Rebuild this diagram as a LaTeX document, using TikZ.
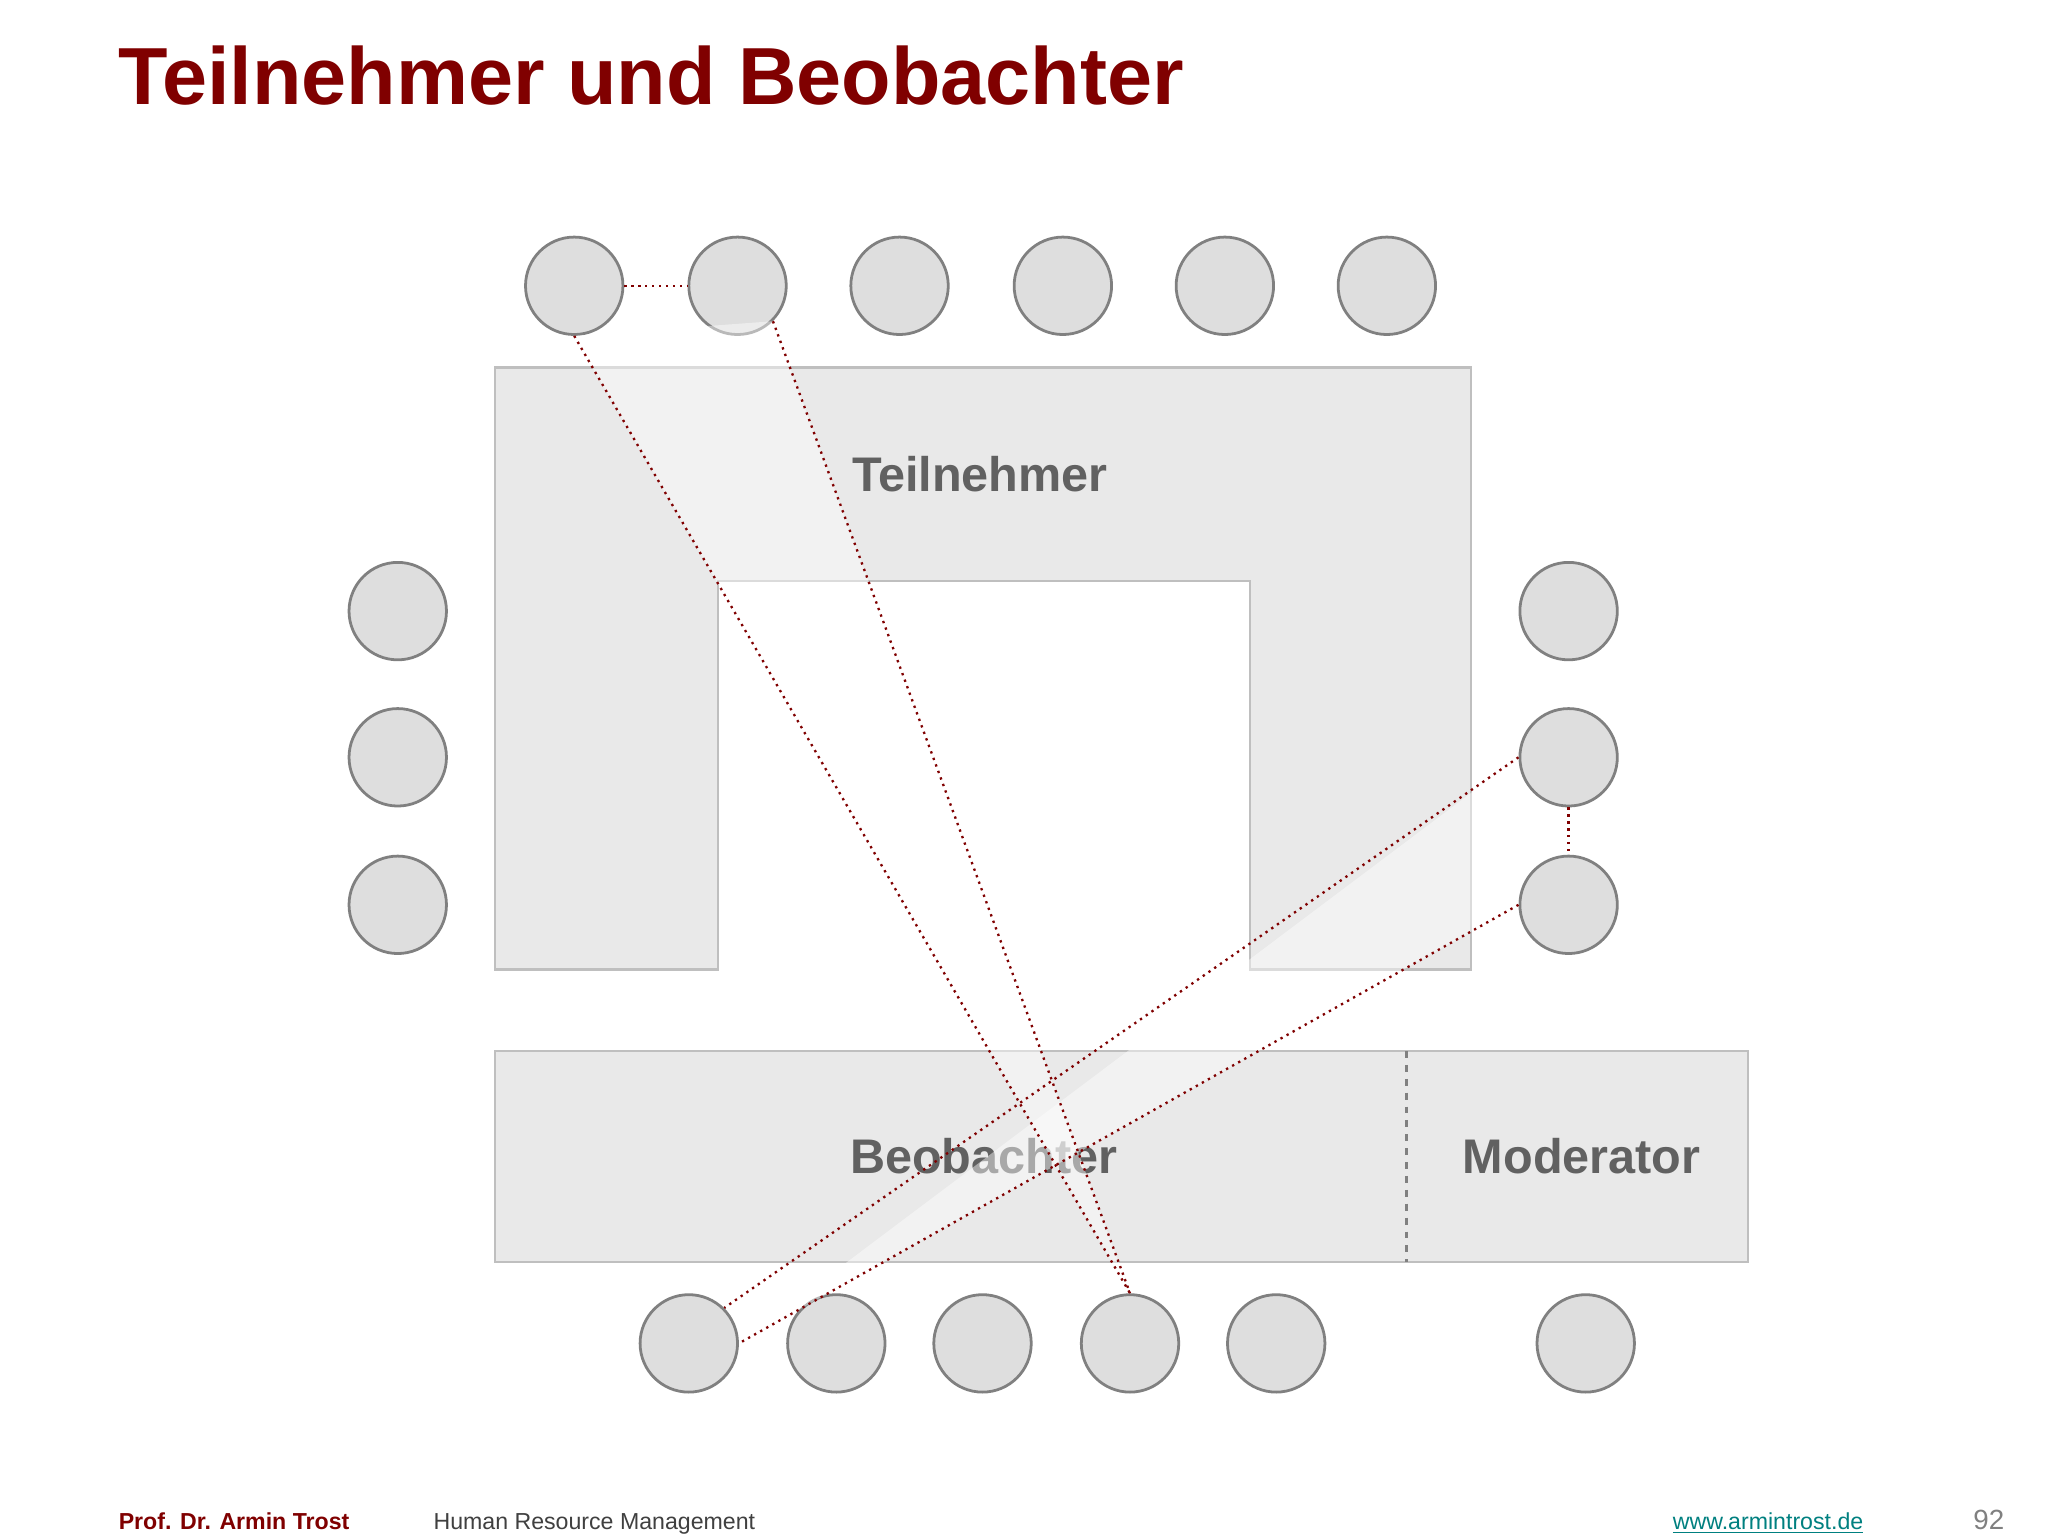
\documentclass[tikz,border=0pt]{standalone}
\usepackage{fontspec}
\setmainfont{Liberation Sans}
\begin{document}
\begin{tikzpicture}[x=0.02cm,y=-0.02cm,
 seat/.style={circle,draw=black!50,fill=black!3!gray!25,line width=1.2pt,minimum size=1.48cm,inner sep=0},
 tbl/.style={draw=black!25,fill=gray!17,line width=1pt},
 link/.style={draw=red!50!black,dotted,line width=1pt},
 lbl/.style={font=\bfseries\fontsize{21pt}{24pt}\selectfont,text=black!62}]
\useasboundingbox (0,0) rectangle (1555,1166);
\fill[white] (0,0) rectangle (1555,1166);
\node[anchor=base west,font=\bfseries\fontsize{35pt}{40pt}\selectfont,text=red!50!black] (title) at (84,79) {Teilnehmer und Beobachter};
\draw[tbl] (376,279) -- (1117,279) -- (1117,736) -- (949,736) -- (949,441) -- (545,441) -- (545,736) -- (376,736) -- cycle;
\draw[tbl] (376,798) rectangle (1327,958);
\draw[black!50,dashed,line width=1pt] (1068,798) -- (1068,958);
\node[lbl] (tn) at (744,360) {Teilnehmer};
\node[lbl] (bb) at (747,878) {Beobachter};
\node[lbl] (md) at (1201,878) {Moderator};
\foreach \x [count=\i] in {436,560,683,807,930,1053} \node[seat] (t\i) at (\x,217) {};
\foreach \y [count=\i] in {464,575,687} { \node[seat] (l\i) at (302,\y) {}; \node[seat] (r\i) at (1191,\y) {}; }
\foreach \x [count=\i] in {523,635,746,858,969,1204} \node[seat] (b\i) at (\x,1020) {};
\fill[white,opacity=0.45] (t1.south) -- (t2.south east) -- (b4.north) -- cycle;
\fill[white,opacity=0.45] (r2.west) -- (r3.west) -- (b1.east) -- cycle;
\draw[link] (t1) -- (t2);
\draw[link] (t1.south) -- (b4.north);
\draw[link] (t2.south east) -- (b4.north);
\draw[link] (r2) -- (r3);
\draw[link] (r2.west) -- (b1.north east);
\draw[link] (r3.west) -- (b1.east);
\node[anchor=base west,font=\bfseries\fontsize{10pt}{12pt}\selectfont,text=red!50!black] (f1) at (84,1161) {Prof. Dr. Armin Trost};
\node[anchor=base west,font=\fontsize{10pt}{12pt}\selectfont,text=black!75] (f2) at (323,1161) {Human Resource Management};
\node[anchor=base west,font=\fontsize{10pt}{12pt}\selectfont,text=teal] (f3) at (1264,1161) {\underline{www.armintrost.de}};
\node[anchor=base east,font=\fontsize{12pt}{14pt}\selectfont,text=black!50] (f4) at (1528,1161) {92};
\end{tikzpicture}
\end{document}
